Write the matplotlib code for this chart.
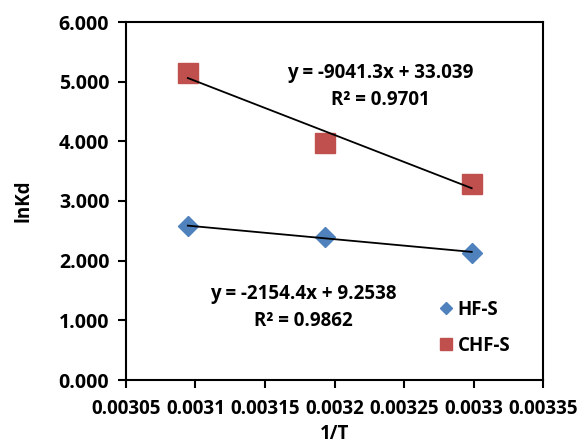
import matplotlib
matplotlib.use("Agg")
import matplotlib.pyplot as plt
import numpy as np

plt.rcParams['font.family'] = ['Open Sans', 'DejaVu Sans']
plt.rcParams['font.weight'] = 'bold'

inv_T = [0.0030945, 0.0031934, 0.0032987]
hf_s = [2.58, 2.40, 2.13]
chf_s = [5.14, 3.97, 3.28]
hf_fit = (-2154.4, 9.2538, 0.9862)
chf_fit = (-9041.3, 33.039, 0.9701)
xticks = [0.00305, 0.0031, 0.00315, 0.0032, 0.00325, 0.0033, 0.00335]
xticklabels = ["0.00305", "0.0031", "0.00315", "0.0032", "0.00325", "0.0033", "0.00335"]
yticks = [0, 1, 2, 3, 4, 5, 6]

fs = 13.5

fig = plt.figure(figsize=(5.8, 4.46), dpi=100)
ax = fig.add_axes([126/580, 1-380/446, (543-126)/580, (380-22)/446])

blue = '#4F81BD'
red = '#C0504D'
ax.plot(inv_T, hf_s, linestyle='none', marker='D', color=blue, markersize=10, label='HF-S', zorder=3)
ax.plot(inv_T, chf_s, linestyle='none', marker='s', color=red, markersize=14, label='CHF-S', zorder=3)

xs = np.array([inv_T[0], inv_T[-1]])
ax.plot(xs, hf_fit[0]*xs + hf_fit[1], color='black', lw=1.3, zorder=4)
ax.plot(xs, chf_fit[0]*xs + chf_fit[1], color='black', lw=1.3, zorder=4)

ax.set_xlim(0.00305, 0.00335)
ax.set_ylim(0, 6)
ax.set_xticks(xticks)
ax.set_xticklabels(xticklabels)
ax.set_yticks(yticks)
ax.set_yticklabels([f"{v:.3f}" for v in yticks])
ax.tick_params(axis='both', labelsize=fs, width=1.5, length=6, direction='out')
ax.tick_params(axis='x', pad=8)
ax.tick_params(axis='y', pad=6, labelsize=14)
for s in ax.spines.values():
    s.set_linewidth(1.5)

ax.set_xlabel('1/T', fontsize=fs, fontweight='bold', labelpad=3)
ax.set_ylabel('lnKd', fontsize=fs, fontweight='bold', labelpad=18)

ax.text(0.609, 0.82, f"y = {chf_fit[0]}x + {chf_fit[1]}\nR² = {chf_fit[2]}", transform=ax.transAxes,
        ha='center', va='center', fontsize=fs, fontweight='bold', linespacing=1.45)
ax.text(0.4257, 0.2025, f"y = {hf_fit[0]}x + {hf_fit[1]}\nR² = {hf_fit[2]}", transform=ax.transAxes,
        ha='center', va='center', fontsize=fs, fontweight='bold', linespacing=1.45)

leg = ax.legend(loc='lower right', bbox_to_anchor=(0.962, 0.02), frameon=False, fontsize=fs,
                handletextpad=0.1, handlelength=1.0, labelspacing=0.85, markerscale=0.6)

fig.savefig('out.png', dpi=100)
